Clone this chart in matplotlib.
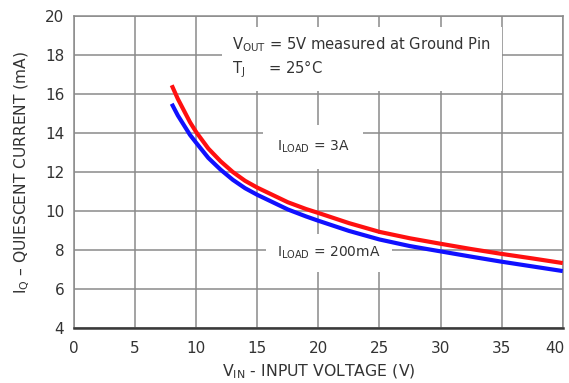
import matplotlib
matplotlib.use("Agg")
import matplotlib.pyplot as plt
from matplotlib.transforms import ScaledTranslation

plt.rcParams['font.family'] = ['DejaVu Sans']
plt.rcParams['mathtext.fontset'] = 'custom'
plt.rcParams['mathtext.rm'] = 'DejaVu Sans'
plt.rcParams['mathtext.it'] = 'DejaVu Sans'

# Data
vin = [8, 8.5, 9, 9.5, 10, 11, 12, 13, 14, 15, 16, 17.5, 19, 20,
       22.5, 25, 27.5, 30, 32.5, 35, 37.5, 40]
iq_3a = [16.45, 15.75, 15.15, 14.55, 14.05, 13.2, 12.55, 12.0, 11.55, 11.2, 10.9,
         10.45, 10.1, 9.9, 9.38, 8.93, 8.6, 8.32, 8.05, 7.8, 7.57, 7.33]
iq_200ma = [15.5, 14.9, 14.4, 13.9, 13.5, 12.72, 12.12, 11.6, 11.17, 10.83, 10.53,
            10.08, 9.72, 9.5, 8.98, 8.54, 8.2, 7.93, 7.66, 7.4, 7.16, 6.92]

x_ticks = [0, 5, 10, 15, 20, 25, 30, 35, 40]
y_ticks = [4, 6, 8, 10, 12, 14, 16, 18, 20]

txt = '#333333'
grid = '#8a8a8a'

fig = plt.figure(figsize=(5.69, 3.83), dpi=100)
ax = fig.add_axes([0.130, 0.1436, 0.859, 0.8146])

ax.plot(vin, iq_3a, color='#ff1010', lw=3, solid_capstyle='butt', zorder=4)
ax.plot(vin, iq_200ma, color='#1010ff', lw=3, solid_capstyle='butt', zorder=3)

ax.set_xlim(0, 40)
ax.set_ylim(4, 20)
ax.set_xticks(x_ticks)
ax.set_yticks(y_ticks)
ax.grid(True, color=grid, lw=1.1, zorder=1)
ax.set_axisbelow(True)
ax.tick_params(length=0, labelsize=11, labelcolor=txt, pad=7)
ax.tick_params(axis='x', pad=9)

# last x label sits slightly inside, as in the reference
last = ax.get_xticklabels()[-1]
last.set_transform(last.get_transform() + ScaledTranslation(-6 / 72, 0, fig.dpi_scale_trans))

for side in ['top', 'right', 'left']:
    ax.spines[side].set_color(grid)
    ax.spines[side].set_linewidth(1.1)
ax.spines['bottom'].set_color('#3a3a3a')
ax.spines['bottom'].set_linewidth(1.8)

ax.set_xlabel(r'V$_{\mathrm{IN}}$ - INPUT VOLTAGE (V)', fontsize=11.3, color=txt, labelpad=5)
ax.set_ylabel(r'I$_{\mathrm{Q}}$ – QUIESCENT CURRENT (mA)', fontsize=11.2, color=txt, labelpad=9)

ax.text(12.95, 17.85,
        'V$_{\\mathrm{OUT}}$ = 5V measured at Ground Pin\nT$_{\\mathrm{J}}$     = 25°C',
        fontsize=10.6, color=txt, va='center', ha='left', linespacing=1.3,
        bbox=dict(boxstyle='square,pad=0.7', facecolor='white', edgecolor='none'), zorder=2)
ax.text(16.6, 13.3, 'I$_{\\mathrm{LOAD}}$ = 3A', fontsize=10, color=txt,
        va='center', ha='left',
        bbox=dict(boxstyle='square,pad=1.0', facecolor='white', edgecolor='none'), zorder=2)
ax.text(16.6, 7.85, 'I$_{\\mathrm{LOAD}}$ = 200mA', fontsize=10, color=txt,
        va='center', ha='left',
        bbox=dict(boxstyle='square,pad=0.8', facecolor='white', edgecolor='none'), zorder=2)

fig.savefig('out.png', dpi=100)
